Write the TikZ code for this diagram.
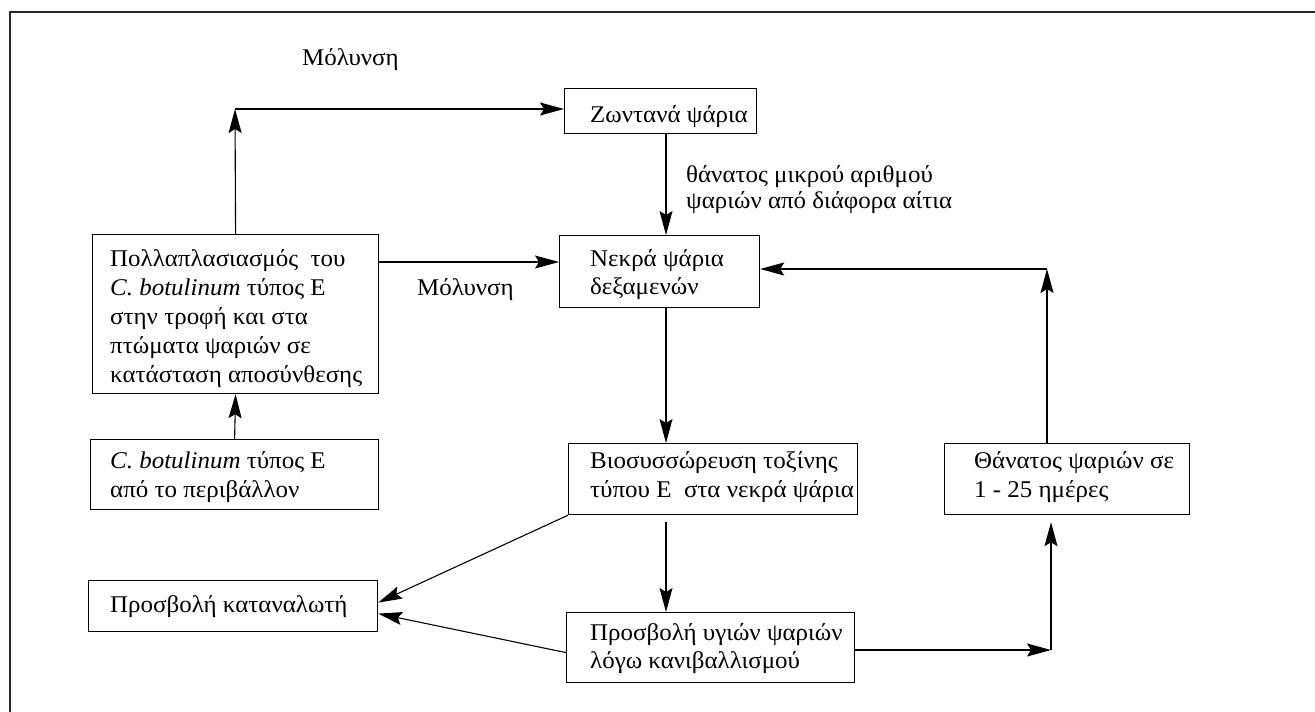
\documentclass[tikz,border=0pt]{standalone}
\usepackage{fontspec}
\setmainfont{Liberation Serif}[FakeStretch=1.04]
\usetikzlibrary{arrows.meta,calc}
\begin{document}
\begin{tikzpicture}[x=1pt,y=-1pt,
  box/.style={draw, line width=1.2pt, anchor=north west, inner sep=0pt},
  txt/.style={anchor=base west, inner sep=0pt, font=\fontsize{24}{29}\selectfont},
  arr/.style={line width=1.1pt, -{Stealth[length=24pt,width=13pt,inset=4pt]}},
  ln/.style={line width=1.1pt}]
\useasboundingbox (0,0) rectangle (1315,712);
\clip (0,0) rectangle (1315,712);
\draw[line width=1.4pt, black!85] (10,12) rectangle (1340,740);

% boxes
\node[box, minimum width=192pt, minimum height=45pt] (zw) at (564,88) {};
\node[box, minimum width=200pt, minimum height=72pt] (nek) at (559,235) {};
\node[box, minimum width=286pt, minimum height=159pt] (poll) at (92,234) {};
\node[box, minimum width=288pt, minimum height=70pt] (cbot) at (90,439) {};
\node[box, minimum width=289pt, minimum height=51pt] (kat) at (88,580) {};
\node[box, minimum width=289pt, minimum height=71pt] (bio) at (568,443) {};
\node[box, minimum width=288pt, minimum height=70pt] (hyg) at (566,612) {};
\node[box, minimum width=245pt, minimum height=71pt] (than) at (944,443) {};

% texts
\node[txt] (zwt) at (590,122) {Ζωντανά ψάρια};
\node[txt] (nekt1) at (590,266) {Νεκρά ψάρια};
\node[txt] (nekt2) at (590,294) {δεξαμενών};
\node[txt] (pollt1) at (110,266) {Πολλαπλασιασμός~ του};
\node[txt] (pollt2) at (110,295) {\textit{C. botulinum} τύπος Ε};
\node[txt] (pollt3) at (110,324) {στην τροφή και στα};
\node[txt] (pollt4) at (110,353) {πτώματα ψαριών σε};
\node[txt] (pollt5) at (110,382) {κατάσταση αποσύνθεσης};
\node[txt] (cbott1) at (110,468) {\textit{C. botulinum} τύπος Ε};
\node[txt] (cbott2) at (110,497) {από το περιβάλλον};
\node[txt] (katt) at (110,612) {Προσβολή καταναλωτή};
\node[txt] (biot1) at (590,468) {Βιοσυσσώρευση τοξίνης};
\node[txt] (biot2) at (590,497) {τύπου Ε~ στα νεκρά ψάρια};
\node[txt] (hygt1) at (590,640) {Προσβολή υγιών ψαριών};
\node[txt] (hygt2) at (590,668) {λόγω κανιβαλλισμού};
\node[txt] (thant1) at (974,468) {Θάνατος ψαριών σε};
\node[txt] (thant2) at (974,497) {1 - 25 ημέρες};

% labels
\node[txt] (mol1) at (302,65) {Μόλυνση};
\node[txt] (mol2) at (417,295) {Μόλυνση};
\node[txt] (dth1) at (686,182) {θάνατος μικρού αριθμού};
\node[txt] (dth2) at (686,208) {ψαριών από διάφορα αίτια};

% helper coordinates
\coordinate (xa) at (666,0);
\coordinate (ya) at (0,262);
\coordinate (c1) at (235,109);
\coordinate (c2) at (1047,269);
\coordinate (c3) at (1051,650);

% connectors
\draw[arr] (poll.north) -- (c1);
\draw[arr] (c1) -- (c1 -| zw.west);
\draw[arr] (zw.south -| xa) -- (nek.north -| xa);
\draw[arr] (poll.east |- ya) -- (nek.west |- ya);
\draw[arr] (cbot.north) -- (poll.south);
\draw[arr] (nek.south -| xa) -- (bio.north -| xa);
\draw[arr, shorten <=7pt] (bio.south -| xa) -- (hyg.north -| xa);
\draw[arr] (bio.south west) -- ([yshift=3.5pt]kat.east);
\draw[arr] ([yshift=-5pt]hyg.west) -- ([yshift=-7.5pt]kat.east);
\draw[arr] (hyg.east |- c3) -- (c3);
\draw[arr, shorten >=7pt] (c3) -- (c3 |- than.south);
\draw[arr] (than.north -| c2) -- (c2);
\draw[arr] (c2) -- (c2 -| nek.east);
\end{tikzpicture}
\end{document}
